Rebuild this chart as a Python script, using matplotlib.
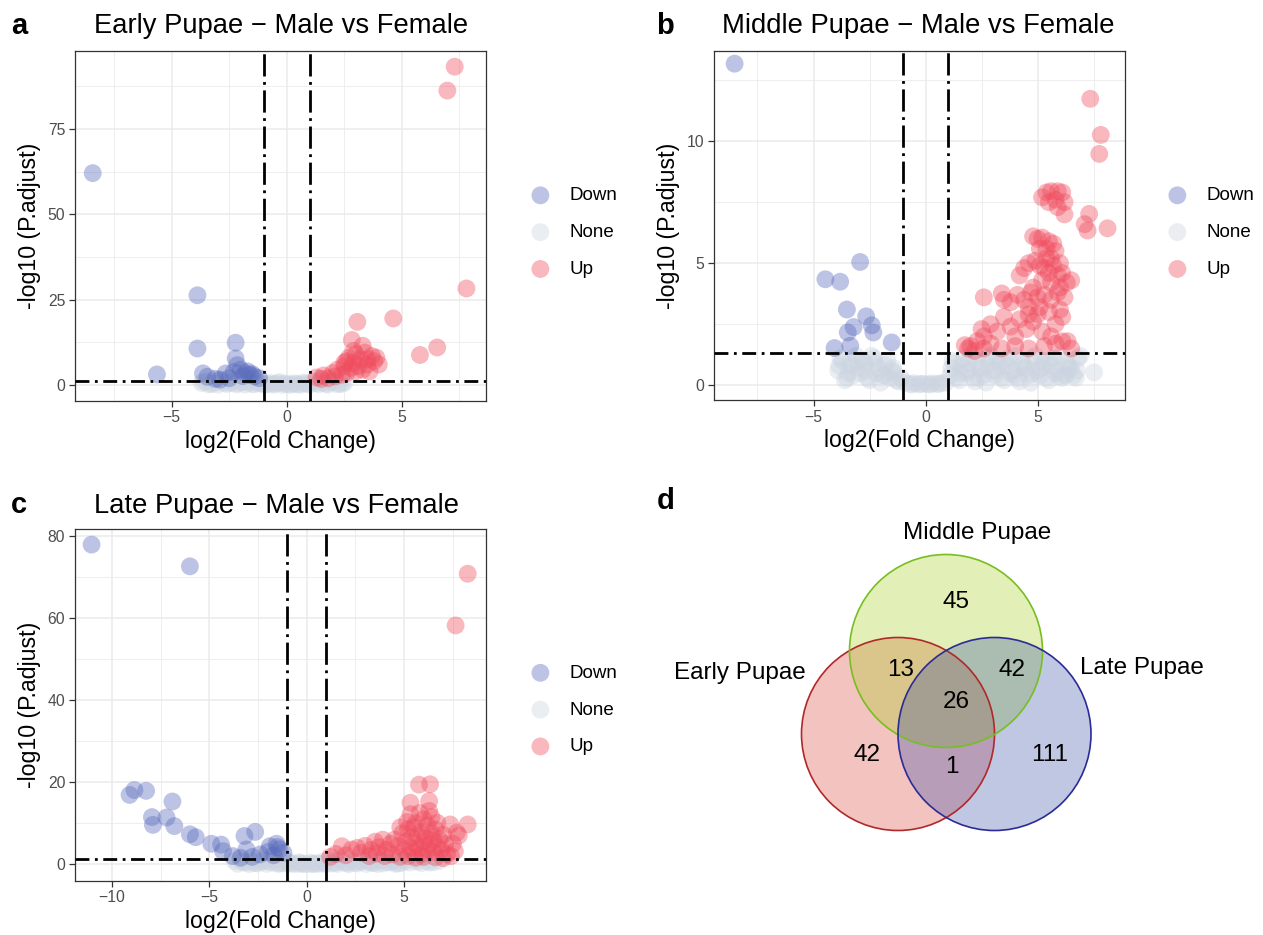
import matplotlib
matplotlib.use('Agg')
import matplotlib.pyplot as plt
from matplotlib.patches import Ellipse
from matplotlib.ticker import MultipleLocator

plt.rcParams['font.family'] = ['Liberation Sans', 'DejaVu Sans']

W, H = 1263, 935

# ---------------- data ----------------
# panel a: Early Pupae
a_down_x = [-8.43, -3.88, -3.88, -5.64, -2.22, -2.22, -3.64, -3.45, -2.15, -2.65, -2.0, -1.8, -1.6,
            -1.4, -1.2, -2.3, -1.9, -1.7, -1.5, -2.5, -3.1, -2.9]
a_down_y = [62.1, 26.3, 10.7, 3.1, 12.4, 7.8, 3.4, 2.4, 5.8, 3.4, 4.5, 3.5, 3.0,
            2.5, 2.0, 3.8, 2.6, 4.0, 3.2, 2.0, 1.8, 1.6]
a_up_x = [7.30, 6.98, 7.81, 4.63, 3.07, 2.83, 5.79, 6.54, 3.4, 3.7, 3.2, 2.9, 3.0, 2.6, 2.5, 2.2, 3.5,
          3.8, 2.8, 3.3, 2.0, 1.6, 1.3, 2.4, 3.6, 2.7, 3.1, 4.0, 2.9, 3.3, 2.5, 3.0, 1.8, 1.5, 2.1,
          2.6, 3.9, 3.5]
a_up_y = [93.3, 86.3, 28.3, 19.5, 18.5, 13.2, 8.8, 11.0, 9.5, 8.5, 7.5, 6.5, 9.0, 7.0, 5.5, 4.5, 6.0,
          7.0, 5.0, 4.5, 3.5, 2.8, 2.2, 3.0, 4.0, 8.0, 5.5, 6.0, 10.0, 11.5, 6.5, 4.0, 2.0, 1.8, 2.5,
          3.5, 8.0, 7.5]
a_none_x = [-3.7, -3.5, -3.3, -3.1, -2.9, -2.7, -2.5, -2.3, -2.1, -1.9, -1.7, -1.5, -1.3, -1.1, -0.9,
            -0.7, -0.5, -0.3, -0.1, 0.1, 0.3, 0.5, 0.7, 0.9, 1.1, 1.3, 1.5, 1.7, 1.9, 2.1, 2.3, 2.5,
            -3.4, -3.0, -2.6, -2.2, -1.8, -1.4, -1.0, -0.6, -0.2, 0.2, 0.6, 1.0, 1.4, 1.8, 2.2,
            -3.6, -3.2, -2.8, -2.4, -2.0, -1.6, -1.2, -0.8, -0.4, 0.0, 0.4, 0.8, 1.2, 1.6, 2.0, 2.4]
a_none_y = [0.6, 1.0, 0.3, 0.9, 1.2, 0.5, 0.8, 1.1, 0.4, 1.0, 0.7, 0.3, 0.9, 0.5, 0.2,
            0.6, 0.3, 0.8, 0.4, 0.1, 0.5, 0.2, 0.7, 0.3, 0.9, 0.5, 1.1, 0.3, 0.8, 1.0, 0.4, 0.7,
            0.2, 0.1, 0.3, 0.2, 0.1, 0.2, 0.1, 0.1, 0.05, 0.1, 0.05, 0.1, 0.2, 0.1, 0.2,
            0.9, 0.4, 1.1, 0.6, 0.8, 1.0, 0.5, 0.3, 0.6, 0.4, 0.3, 0.5, 0.8, 0.6, 1.1, 0.3]

# panel b: Middle Pupae
b_down_x = [-8.52, -2.92, -4.47, -3.81, -3.51, -2.65, -2.40, -3.47, -2.33, -3.21, -1.51, -4.06, -3.36]
b_down_y = [13.18, 5.05, 4.34, 4.24, 3.10, 2.82, 2.45, 2.16, 2.16, 2.38, 1.75, 1.52, 1.61]
b_up_x = [7.35, 7.82, 7.75, 7.30, 8.12, 7.23, 7.1,
          5.2, 5.4, 5.6, 5.9, 6.1, 5.5, 5.8, 6.2, 6.2, 5.9,
          4.8, 5.0, 5.2, 5.5, 5.7, 5.4, 5.8, 5.6, 6.0, 5.1,
          4.4, 4.6, 4.9, 5.1, 5.3, 5.5, 5.7, 5.9, 6.1, 6.3, 6.5, 5.6, 5.2, 4.8, 4.2, 6.0, 5.4,
          2.6, 3.4, 3.5, 3.8, 4.1, 4.4, 4.7, 5.0, 5.3, 5.6, 5.9, 6.2, 4.6, 5.1, 5.5, 6.0,
          2.9, 3.2, 3.5, 3.8, 4.2, 4.5, 4.8, 5.2, 5.6, 6.1, 2.6, 4.0, 5.0, 2.5, 5.8, 4.6,
          1.75, 2.0, 2.3, 2.6, 2.9, 3.4, 4.0, 4.6, 5.3, 5.8, 6.1, 6.34, 6.5, 2.2, 1.9]
b_up_y = [11.74, 10.26, 9.48, 7.02, 6.43, 6.34, 6.6,
          7.7, 7.9, 7.95, 7.95, 7.9, 7.5, 7.6, 7.5, 7.0, 7.3,
          6.1, 6.0, 6.05, 5.9, 5.8, 5.6, 5.5, 5.2, 5.0, 5.6,
          4.8, 5.0, 5.1, 4.9, 4.8, 4.6, 4.9, 4.5, 4.6, 4.2, 4.3, 4.2, 4.3, 4.0, 4.5, 4.0, 5.2,
          3.6, 3.76, 3.5, 3.4, 3.7, 3.5, 3.8, 3.6, 3.7, 3.5, 3.8, 3.6, 3.2, 3.2, 3.0, 3.1,
          2.5, 2.2, 2.8, 2.4, 2.7, 2.3, 2.6, 2.2, 2.0, 2.8, 2.0, 2.0, 2.9, 2.3, 2.5, 2.9,
          1.64, 1.6, 1.8, 1.5, 1.7, 1.5, 1.6, 1.5, 1.6, 1.7, 1.8, 1.8, 1.5, 1.4, 1.5]
b_none_x = [-3.9, -3.7, -3.5, -3.3, -3.1, -2.9, -2.7, -2.5, -2.3, -2.1, -1.9, -1.7, -1.5, -1.3, -1.1,
            -3.8, -3.6, -3.4, -3.2, -3.0, -2.8, -2.6, -2.4, -2.2, -2.0, -1.8, -1.6, -1.4, -1.2,
            -0.9, -0.7, -0.5, -0.3, -0.1, 0.1, 0.3, 0.5, 0.7, 0.9,
            1.1, 1.3, 1.5, 1.7, 1.9, 2.1, 2.3, 2.5, 2.7, 2.9, 3.1, 3.3, 3.5, 3.7, 3.9, 4.1, 4.3, 4.5,
            4.7, 4.9, 5.1, 5.3, 5.5, 5.7, 5.9, 6.1, 6.3, 6.5, 6.7, 6.9,
            1.2, 1.4, 1.6, 1.8, 2.0, 2.2, 2.4, 2.6, 2.8, 3.0, 3.2, 3.4, 3.6, 3.8, 4.0, 4.2, 4.4, 4.6,
            4.8, 5.0, 5.2, 5.4, 5.6, 5.8, 6.0, 6.2, 6.4, 6.6, 6.8, 7.52, 6.27,
            -3.85, -3.45, -3.05, -2.65, -2.25, -1.85, -1.45, -0.6, -0.2, 0.2, 0.6,
            1.15, 1.55, 1.95, 2.35, 2.75, 3.15, 3.55, 3.95, 4.35, 4.75, 5.15, 5.55, 5.95, 6.35, 6.75]
b_none_y = [0.6, 1.0, 0.3, 0.8, 1.2, 0.5, 0.9, 0.2, 1.1, 0.7, 0.4, 1.0, 0.6, 0.2, 0.3,
            1.1, 0.2, 0.9, 0.4, 0.7, 1.0, 0.3, 1.2, 0.5, 0.1, 0.8, 0.3, 0.5, 0.15,
            0.1, 0.05, 0.08, 0.03, 0.06, 0.04, 0.07, 0.05, 0.08, 0.1,
            0.4, 0.9, 0.2, 1.1, 0.6, 0.3, 1.0, 0.7, 0.1, 1.2, 0.4, 0.9, 0.2, 1.1, 0.6, 0.3, 1.0, 0.7,
            0.1, 1.2, 0.4, 0.9, 0.2, 1.1, 0.6, 0.3, 1.0, 0.7, 0.3, 1.2,
            1.0, 0.3, 0.8, 0.5, 1.2, 0.15, 0.7, 0.4, 1.1, 0.6, 1.0, 0.3, 0.8, 0.5, 1.2, 0.15, 0.7, 0.4,
            1.1, 0.6, 1.0, 0.3, 0.8, 0.5, 1.2, 0.4, 0.7, 0.4, 1.1, 0.52, 0.41,
            0.8, 0.5, 1.0, 0.6, 0.9, 0.4, 0.7, 0.02, 0.05, 0.02, 0.05,
            0.7, 0.5, 0.9, 0.3, 0.8, 0.6, 1.0, 0.4, 0.85, 0.5, 0.7, 0.95, 0.35, 0.8, 0.6]

# panel c: Late Pupae
c_down_x = [-11.05, -6.0, -8.85, -9.1, -8.25, -6.9, -7.95, -7.9, -7.2, -6.8, -6.0, -5.7, -4.9, -4.4,
            -4.3, -3.2, -2.65, -3.1, -1.9, -1.55, -3.8, -2.4, -1.4, -3.4, -2.0, -1.7, -1.2, -2.8, -1.5]
c_down_y = [77.9, 72.6, 18.1, 16.9, 17.9, 15.3, 11.5, 9.6, 11.4, 9.3, 7.3, 6.6, 5.0, 4.8,
            3.2, 6.9, 7.9, 3.6, 4.4, 5.0, 2.0, 2.4, 3.6, 1.6, 3.0, 2.2, 2.8, 1.8, 4.2]
c_up_x = [8.26, 7.64, 5.76, 6.33, 6.28, 5.32, 5.32, 8.26, 7.36, 7.7, 7.6, 6.28, 6.7, 5.15,
          4.5, 4.7, 4.9, 5.0, 5.1, 5.2, 5.3, 5.4, 5.5, 5.5, 5.6, 5.7, 5.8, 5.9, 5.9, 6.0, 6.1, 6.2,
          6.2, 6.3, 6.4, 6.5, 6.5, 6.6, 6.7, 6.8, 6.9, 7.0, 7.1, 7.2, 6.0, 5.8, 6.4, 5.6, 4.8, 4.3,
          4.1, 3.9, 3.7, 3.5, 3.3, 3.0, 2.6, 2.3, 1.8, 1.5, 1.2, 2.0, 2.8, 3.2, 3.6, 4.0, 4.4, 4.8,
          5.2, 5.6, 6.0, 6.6, 7.0, 7.4, 7.8, 7.5]
c_up_y = [70.8, 58.2, 19.4, 19.5, 15.4, 15.0, 12.2, 9.7, 9.7, 7.7, 3.2, 13.0, 10.1, 10.3,
          6.0, 4.5, 7.5, 3.5, 5.5, 8.5, 4.0, 6.5, 9.0, 3.0, 5.0, 7.0, 4.0, 8.0, 2.5, 5.5, 6.5, 3.5,
          9.5, 4.8, 7.5, 3.0, 5.8, 8.5, 4.2, 6.2, 3.5, 7.2, 5.0, 2.5, 11.0, 12.5, 11.5, 10.0, 9.0, 5.0,
          3.5, 6.0, 4.2, 5.5, 3.5, 4.5, 4.0, 3.6, 4.4, 2.5, 1.8, 2.2, 2.8, 2.0, 2.6, 2.0, 2.4, 1.8,
          2.0, 1.6, 1.8, 1.7, 1.5, 2.0, 7.0, 5.0]
c_none_x = [-3.7, -3.4, -3.1, -2.8, -2.5, -2.2, -1.9, -1.6, -1.3, -1.0, -0.7, -0.4, -0.1, 0.2, 0.5,
            0.8, 1.1, 1.4, 1.7, 2.0, 2.3, 2.6, 2.9, 3.2, 3.5, 3.8, 4.1, 4.4, 4.7, 5.0, 5.3, 5.6,
            5.9, 6.2, 6.5, 6.8,
            -3.55, -3.25, -2.95, -2.65, -2.35, -2.05, -1.75, -1.45, -1.15, -0.85, -0.55, -0.25,
            0.05, 0.35, 0.65, 0.95, 1.25, 1.55, 1.85, 2.15, 2.45, 2.75, 3.05, 3.35, 3.65, 3.95,
            4.25, 4.55, 4.85,
            -3.3, -2.7, -2.1, -1.5, -0.9, -0.3, 0.3, 0.9, 1.5, 2.1, 2.7, 3.3, 3.9, 4.5, 5.1, 5.7, 6.3]
c_none_y = [0.8, 1.2, 0.4, 0.9, 0.2, 1.1, 0.6, 1.0, 0.3, 0.7, 0.2, 0.5, 0.1, 0.4, 0.2,
            0.6, 0.9, 0.3, 1.1, 0.5, 0.8, 0.2, 1.2, 0.6, 0.3, 1.0, 0.5, 0.8, 0.2, 1.1, 0.4, 0.9,
            0.3, 0.7, 0.5, 0.8,
            0.1, 0.5, 0.05, 0.3, 0.6, 0.1, 0.4, 0.05, 0.2, 0.1, 0.05, 0.1,
            0.03, 0.05, 0.1, 0.05, 0.2, 0.1, 0.4, 0.05, 0.3, 0.6, 0.1, 0.4, 0.05, 0.2,
            0.5, 0.1, 0.3,
            0.6, 0.4, 0.8, 0.3, 0.4, 0.2, 0.1, 0.3, 0.6, 0.2, 0.7, 0.4, 0.9, 0.5, 0.7, 0.6, 0.4]

groups = ['Down', 'None', 'Up']
group_colors = {'Down': '#586BBC', 'None': '#CBD4E0', 'Up': '#F04B5D'}
fc_cut = 1
p_cut_y = 1.3

# venn
venn_sets = ['Early Pupae', 'Middle Pupae', 'Late Pupae']
venn_counts = {'E': 42, 'M': 45, 'L': 111, 'EM': 13, 'ML': 42, 'EL': 1, 'EML': 26}

# ---------------- plotting ----------------
fig = plt.figure(figsize=(W / 100, H / 100), dpi=100)


def rect(l, t, r, b):
    return [l / W, 1 - b / H, (r - l) / W, (b - t) / H]


def volcano(box, data, xlim, ylim, xmaj, ymaj, title, title_pos, letter, letter_pos, leg_pos):
    ax = fig.add_axes(rect(*box))
    nx, ny, dx, dy, ux, uy = data
    h_none = ax.scatter(nx, ny, s=165, color=group_colors['None'], alpha=0.4, edgecolors='none', zorder=2)
    h_down = ax.scatter(dx, dy, s=165, color=group_colors['Down'], alpha=0.4, edgecolors='none', zorder=2)
    h_up = ax.scatter(ux, uy, s=165, color=group_colors['Up'], alpha=0.4, edgecolors='none', zorder=2)
    for v in (-fc_cut, fc_cut):
        ax.axvline(v, color='black', lw=2.0, ls=(0, (8, 2, 1, 2)), zorder=3)
    ax.axhline(p_cut_y, color='black', lw=2.0, ls=(0, (5, 2, 1, 2)), zorder=3)
    ax.set_xlim(*xlim)
    ax.set_ylim(*ylim)
    ax.xaxis.set_major_locator(MultipleLocator(xmaj))
    ax.xaxis.set_minor_locator(MultipleLocator(xmaj / 2))
    ax.yaxis.set_major_locator(MultipleLocator(ymaj))
    ax.yaxis.set_minor_locator(MultipleLocator(ymaj / 2))
    ax.set_axisbelow(True)
    ax.grid(which='major', color='#ebebeb', lw=1.1)
    ax.grid(which='minor', color='#ebebeb', lw=0.6)
    ax.tick_params(which='major', length=4, width=0.9, color='#333333', labelcolor='#4d4d4d',
                   labelsize=11.3, pad=3)
    ax.tick_params(which='minor', length=0)
    for sp in ax.spines.values():
        sp.set_color('#333333')
        sp.set_linewidth(0.9)
    ax.set_xlabel('log2(Fold Change)', fontsize=16.7, labelpad=3)
    ax.set_ylabel('-log10 (P.adjust)', fontsize=16.7, labelpad=5)
    fig.text(title_pos[0] / W, 1 - title_pos[1] / H, title, fontsize=19.7, ha='left', va='baseline')
    fig.text(letter_pos[0] / W, 1 - letter_pos[1] / H, letter, fontsize=21, fontweight='bold',
             ha='left', va='baseline')
    ax.legend([h_down, h_none, h_up], groups, loc='center left',
              bbox_to_anchor=(leg_pos[0] / W, 1 - leg_pos[1] / H), bbox_transform=fig.transFigure,
              frameon=False, fontsize=13.5, handlelength=1.0, handletextpad=1.05,
              labelspacing=1.05, borderpad=0, borderaxespad=0)
    return ax


volcano((75, 51, 486, 400.7), (a_none_x, a_none_y, a_down_x, a_down_y, a_up_x, a_up_y),
        (-9.2, 8.66), (-4.6, 97.9), 5, 25,
        'Early Pupae − Male vs Female', (94, 33), 'a', (11, 34), (531, 232.5))
volcano((714, 51, 1125, 400), (b_none_x, b_none_y, b_down_x, b_down_y, b_up_x, b_up_y),
        (-9.44, 8.9), (-0.61, 13.7), 5, 5,
        'Middle Pupae − Male vs Female', (722, 33), 'b', (656, 34), (1168, 232.5))
volcano((75, 529, 486, 880.7), (c_none_x, c_none_y, c_down_x, c_down_y, c_up_x, c_up_y),
        (-11.9, 9.2), (-4.0, 81.7), 5, 20,
        'Late Pupae − Male vs Female', (94, 513), 'c', (11, 513), (531, 710))

# ---------------- venn (panel d) ----------------
axd = fig.add_axes([0.5, 0, 0.5, 0.5])
axd.set_xlim(W / 2, W)
axd.set_ylim(H, H / 2)
axd.axis('off')
circles = [((898, 734), '#D93B30', '#B0282A'),
           ((946, 651), '#A2CD12', '#78BE20'),
           ((994.5, 734), '#2D48A5', '#2B2B96')]
for (c, fc, ec) in circles:
    axd.add_patch(Ellipse(c, 193, 193, facecolor=fc, alpha=0.3, edgecolor='none'))
for (c, fc, ec) in circles:
    axd.add_patch(Ellipse(c, 193, 193, facecolor='none', edgecolor=ec, lw=1.2))

axd.text(740, 679.3, venn_sets[0], fontsize=17.5, ha='center', va='baseline')
axd.text(977, 539.3, venn_sets[1], fontsize=17.5, ha='center', va='baseline')
axd.text(1142, 674, venn_sets[2], fontsize=17.5, ha='center', va='baseline')
count_pos = {'E': (867, 760.7), 'M': (956, 608.3), 'L': (1050, 760.7), 'EM': (901, 675.7),
             'ML': (1011.6, 675.7), 'EL': (952, 773.3), 'EML': (956.3, 708.3)}
for k, v in venn_counts.items():
    axd.text(count_pos[k][0], count_pos[k][1], str(v), fontsize=17.5, ha='center', va='baseline')
fig.text(657 / W, 1 - 509 / H, 'd', fontsize=21, fontweight='bold', ha='left', va='baseline')

fig.savefig('out.png', dpi=100)
